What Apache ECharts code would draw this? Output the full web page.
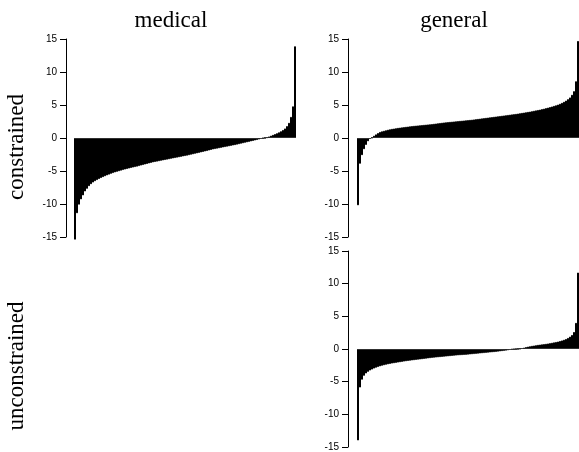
<!DOCTYPE html>
<html>
<head>
<meta charset="utf-8">
<script src="https://cdn.jsdelivr.net/npm/echarts@6/dist/echarts.min.js"></script>
<style>
html,body{margin:0;padding:0;background:#fff;}
#c{width:579px;height:452px;}
</style>
</head>
<body>
<div id="c"></div>
<script>
var colTitles = ['medical', 'general'];
var rowTitles = ['constrained', 'unconstrained'];
var yTicks = [-15, -10, -5, 0, 5, 10, 15];

var medicalConstrained = [
 -15.4, -11.4, -10.1, -9.3, -8.7, -8.1, -7.7, -7.3, -7.0, -6.75,
 -6.55, -6.38, -6.22, -6.07, -5.93, -5.8, -5.67, -5.55, -5.43, -5.32,
 -5.22, -5.13, -5.04, -4.95, -4.86, -4.78, -4.7, -4.63, -4.55, -4.48,
 -4.41, -4.34, -4.26, -4.18, -4.1, -4.02, -3.94, -3.86, -3.78, -3.7,
 -3.64, -3.58, -3.52, -3.46, -3.4, -3.34, -3.28, -3.22, -3.16, -3.1,
 -3.04, -2.98, -2.92, -2.86, -2.8, -2.74, -2.68, -2.61, -2.54, -2.47,
 -2.4, -2.33, -2.26, -2.19, -2.12, -2.05, -1.98, -1.9, -1.82, -1.74,
 -1.68, -1.62, -1.56, -1.5, -1.44, -1.38, -1.32, -1.26, -1.2, -1.14,
 -1.08, -1.01, -0.94, -0.87, -0.8, -0.73, -0.66, -0.59, -0.52, -0.45,
 -0.38, -0.31, -0.23, -0.15, -0.07, 0.02, 0.12, 0.24, 0.36, 0.48,
 0.6, 0.73, 0.87, 1.03, 1.22, 1.45, 1.8, 2.3, 3.2, 4.8,
 13.9
];

var generalConstrained = [
 -10.2, -3.9, -2.6, -1.7, -1.05, -0.5, -0.15, 0.08, 0.35, 0.55,
 0.75, 0.92, 1.02, 1.1, 1.18, 1.26, 1.33, 1.39, 1.44, 1.49,
 1.54, 1.58, 1.62, 1.66, 1.7, 1.74, 1.78, 1.82, 1.85, 1.88,
 1.91, 1.94, 1.97, 2.0, 2.03, 2.06, 2.09, 2.12, 2.16, 2.2,
 2.24, 2.28, 2.32, 2.36, 2.39, 2.42, 2.45, 2.48, 2.51, 2.54,
 2.57, 2.6, 2.63, 2.66, 2.69, 2.72, 2.75, 2.78, 2.82, 2.86,
 2.9, 2.94, 2.98, 3.02, 3.06, 3.1, 3.14, 3.18, 3.22, 3.26,
 3.3, 3.34, 3.38, 3.42, 3.46, 3.5, 3.54, 3.58, 3.62, 3.66,
 3.71, 3.76, 3.81, 3.86, 3.91, 3.96, 4.01, 4.07, 4.13, 4.19,
 4.25, 4.31, 4.38, 4.45, 4.53, 4.61, 4.69, 4.78, 4.87, 4.96,
 5.07, 5.19, 5.33, 5.49, 5.67, 5.89, 6.15, 6.55, 7.1, 8.6,
 14.7
];

var generalUnconstrained = [
 -14.0, -5.9, -4.7, -4.1, -3.75, -3.5, -3.3, -3.15, -3.0, -2.87,
 -2.76, -2.66, -2.57, -2.49, -2.42, -2.35, -2.29, -2.23, -2.18, -2.13,
 -2.08, -2.03, -1.98, -1.93, -1.88, -1.84, -1.8, -1.76, -1.72, -1.68,
 -1.64, -1.61, -1.57, -1.53, -1.49, -1.45, -1.41, -1.37, -1.34, -1.31,
 -1.28, -1.25, -1.22, -1.19, -1.16, -1.13, -1.1, -1.07, -1.04, -1.01,
 -0.98, -0.96, -0.94, -0.92, -0.9, -0.87, -0.84, -0.81, -0.78, -0.75,
 -0.72, -0.69, -0.66, -0.63, -0.6, -0.57, -0.54, -0.51, -0.48, -0.45,
 -0.41, -0.37, -0.33, -0.29, -0.25, -0.2, -0.15, -0.1, -0.06, -0.02,
 0.02, 0.08, 0.15, 0.22, 0.3, 0.37, 0.43, 0.49, 0.54, 0.59,
 0.64, 0.68, 0.72, 0.76, 0.8, 0.85, 0.9, 0.96, 1.02, 1.08,
 1.15, 1.23, 1.32, 1.42, 1.54, 1.7, 1.9, 2.15, 2.6, 4.0,
 11.7
];

var chart = echarts.init(document.getElementById('c'), null, {renderer: 'canvas'});

var panels = [
  {data: medicalConstrained, left: 74, top: 39, offset: 8},
  {data: generalConstrained, left: 357, top: 39, offset: 9},
  {data: generalUnconstrained, left: 357, top: 251, offset: 9}
];

var grids = [], xAxes = [], yAxes = [], series = [];
panels.forEach(function (p, k) {
  grids.push({left: p.left, top: p.top, width: 222, height: 198, containLabel: false});
  xAxes.push({type: 'category', gridIndex: k, show: false, boundaryGap: true,
    data: p.data.map(function (_, i) { return i; })});
  yAxes.push({type: 'value', gridIndex: k, min: yTicks[0], max: yTicks[yTicks.length - 1],
    interval: 5, offset: p.offset,
    axisLine: {show: true, lineStyle: {color: '#000', width: 1}},
    axisTick: {show: true, length: 6, lineStyle: {color: '#000', width: 1}},
    axisLabel: {show: true, color: '#000', fontFamily: 'Liberation Sans', fontSize: 10, margin: 9},
    splitLine: {show: false}});
  series.push({type: 'bar', xAxisIndex: k, yAxisIndex: k, data: p.data,
    barWidth: '100%', clip: false, silent: true, animation: false,
    itemStyle: {color: '#000', borderColor: '#000', borderWidth: 1}});
});

var serif = '23px "Liberation Serif"';
var graphics = [
  {type: 'text', x: 171, y: 21, style: {text: colTitles[0], font: serif, fill: '#000', align: 'center', verticalAlign: 'middle'}},
  {type: 'text', x: 454, y: 21, style: {text: colTitles[1], font: serif, fill: '#000', align: 'center', verticalAlign: 'middle'}},
  {type: 'text', x: 17, y: 147, rotation: Math.PI / 2, style: {text: rowTitles[0], font: serif, fill: '#000', align: 'center', verticalAlign: 'middle'}},
  {type: 'text', x: 17, y: 366, rotation: Math.PI / 2, style: {text: rowTitles[1], font: serif, fill: '#000', align: 'center', verticalAlign: 'middle'}}
];

chart.setOption({
  animation: false,
  backgroundColor: '#fff',
  grid: grids,
  xAxis: xAxes,
  yAxis: yAxes,
  series: series,
  graphic: graphics
});
</script>
</body>
</html>
